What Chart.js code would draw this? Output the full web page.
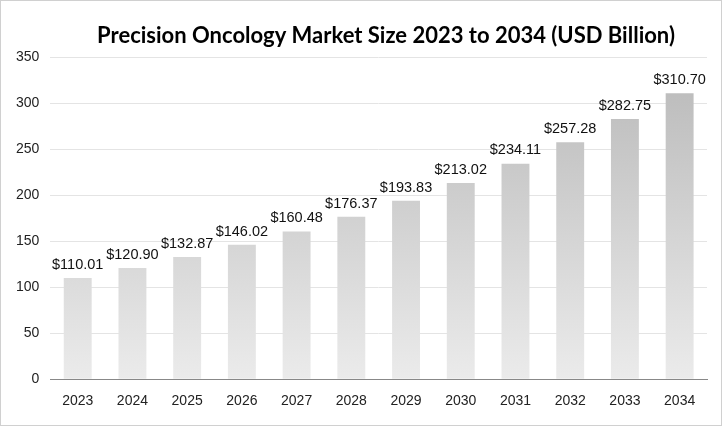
<!DOCTYPE html>
<html>
<head>
<meta charset="utf-8">
<script src="https://cdn.jsdelivr.net/npm/chart.js@4"></script>
<style>
  body { margin: 0; background: #fff; }
  .wrap { position: absolute; left: 0; top: 0; width: 720px; height: 424px; border: 1px solid #d0d0d0; }
</style>
</head>
<body>
<div class="wrap"><canvas id="myChart"></canvas></div>
<script>
const years = ["2023", "2024", "2025", "2026", "2027", "2028", "2029", "2030", "2031", "2032", "2033", "2034"];
const marketSize = [110.01, 120.90, 132.87, 146.02, 160.48, 176.37, 193.83, 213.02, 234.11, 257.28, 282.75, 310.70];
const yTicks = [0, 50, 100, 150, 200, 250, 300, 350];
const titleText = "Precision Oncology Market Size 2023 to 2034 (USD Billion)";

const labelPlugin = {
  id: "barLabels",
  afterDatasetsDraw(chart) {
    const ctx = chart.ctx;
    const meta = chart.getDatasetMeta(0);
    ctx.save();
    ctx.font = "14.5px 'Liberation Sans', Arial, sans-serif";
    ctx.fillStyle = "#111";
    ctx.textAlign = "center";
    ctx.textBaseline = "bottom";
    meta.data.forEach((bar, i) => {
      ctx.fillText("$" + marketSize[i].toFixed(2), bar.x, bar.y - 6);
    });
    // title, drawn here so it can sit slightly right of centre like the original
    ctx.font = "bold 22px Lato, 'Open Sans', sans-serif";
    ctx.fillStyle = "#000";
    ctx.textBaseline = "middle";
    ctx.fillText(titleText, 385, 35);
    ctx.restore();
  }
};

const ctx = document.getElementById("myChart").getContext("2d");

const myChart = new Chart(ctx, {
  type: "bar",
  data: {
    labels: years,
    datasets: [{
      data: marketSize,
      backgroundColor: function (c) {
        const area = c.chart.chartArea;
        if (!area) return "#ccc";
        const g = c.chart.ctx.createLinearGradient(0, area.top, 0, area.bottom);
        g.addColorStop(0, "#b8b8b8");
        g.addColorStop(1, "#ebebeb");
        return g;
      },
      barPercentage: 0.51,
      categoryPercentage: 1,
    }]
  },
  options: {
    responsive: true,
    maintainAspectRatio: false,
    animation: false,
    layout: { padding: { left: 4, right: 14, top: 56, bottom: 9 } },
    scales: {
      x: {
        grid: { display: false },
        border: { color: "#888" },
        ticks: { color: "#222", font: { size: 14, family: "'Liberation Sans', Arial" }, padding: 6 }
      },
      y: {
        min: 0,
        max: 350,
        afterBuildTicks(axis) { axis.ticks = yTicks.map(v => ({ value: v })); },
        grid: { color: "#e4e4e4", drawTicks: false },
        border: { display: false },
        ticks: { color: "#222", font: { size: 14, family: "'Liberation Sans', Arial" }, padding: 11 }
      }
    },
    plugins: {
      legend: { display: false },
      tooltip: { enabled: false },
      title: { display: false }
    }
  },
  plugins: [labelPlugin]
});
</script>
</body>
</html>
